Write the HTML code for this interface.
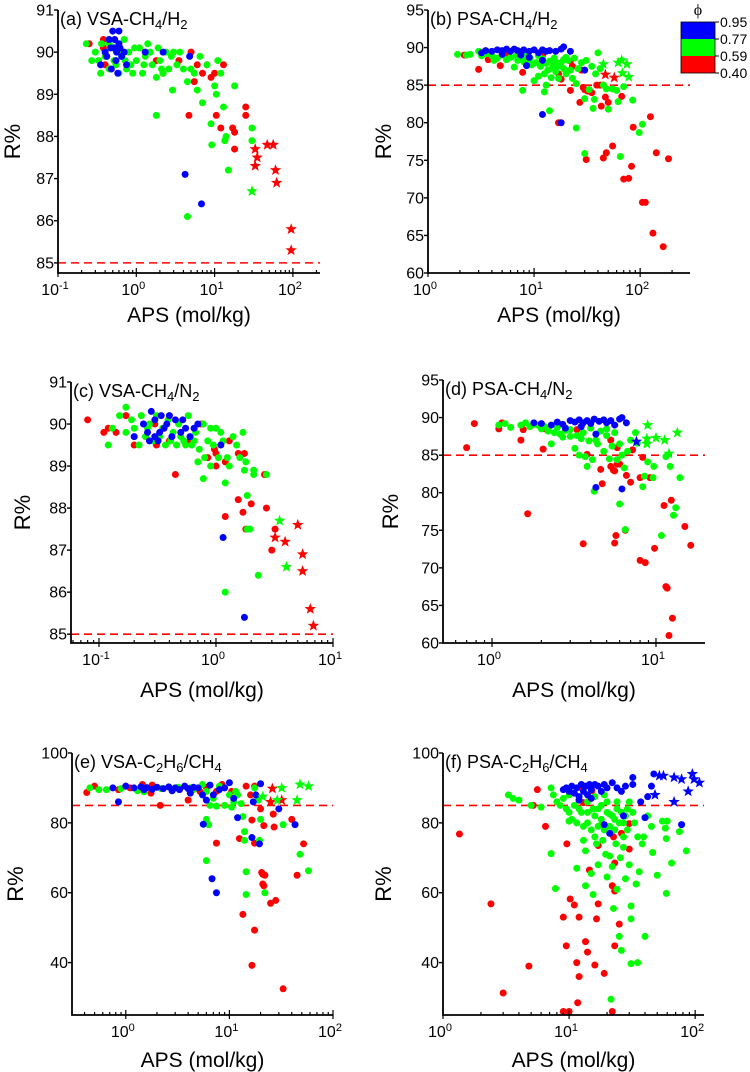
<!DOCTYPE html>
<html><head><meta charset="utf-8"><style>
html,body{margin:0;padding:0;background:#fff;}
svg{display:block;font-family:"Liberation Sans",Arial,sans-serif;}
</style></head><body>
<svg id="fig" width="750" height="1072" viewBox="0 0 750 1072"></svg>
<script>
// ---------- data (APS mol/kg, R%) ----------
const aRed=[[0.25,90.2],[0.38,90.3],[0.4,89.7],[0.57,90.1],[1.1,90.1],[1.8,89.8],[3.5,89.8],[5,90.0],[5.5,89.3],[6,89.7],[7,89.5],[8,89.7],[9,89.4],[10,89.5],[13,89.7],[4.7,88.5],[10.5,88.5],[12,88.2],[17,88.2],[18,88.1],[18,87.7],[25,88.7],[25,88.5],[0.38,90.1],[2.2,89.5]];
const aRedStar=[[33,87.7],[47,87.8],[56,87.8],[35,87.5],[33,87.3],[60,87.2],[62,86.9],[95,85.8],[95,85.3]];
const aGreen=[[0.23,90.2],[0.27,89.8],[0.3,90.0],[0.33,89.8],[0.36,90.2],[0.4,89.9],[0.45,89.6],[0.5,90.1],[0.55,89.7],[0.6,89.5],[0.65,89.9],[0.7,90.3],[0.75,89.6],[0.8,90.0],[0.9,89.5],[1.0,89.8],[1.1,90.1],[1.2,89.5],[1.3,89.9],[1.4,90.2],[1.6,89.7],[1.8,89.4],[1.9,90.1],[2.0,89.8],[2.2,89.5],[2.4,90.0],[2.6,89.6],[2.9,89.1],[3.0,90.0],[3.3,89.7],[3.6,90.0],[4.0,89.6],[4.5,89.3],[5.0,89.6],[5.5,89.5],[6.0,89.1],[6.5,89.9],[7,88.8],[8,89.7],[9,88.3],[9.2,87.8],[10,89.2],[10.5,89.0],[11,89.8],[12,89.5],[13,88.7],[13.5,87.9],[14,88.0],[15,87.2],[18,89.2],[30,88.2],[30,87.9],[1.8,88.5],[4.5,86.1],[0.45,90.2],[0.85,89.7],[1.5,90.0],[2.8,89.9],[0.95,90.1],[0.6,90.0],[0.35,89.5],[1.25,89.7],[2.1,89.6],[0.52,89.8],[0.72,89.8]];
const aGreenStar=[[30,86.7]];
const aBlue=[[0.35,89.7],[0.4,90.0],[0.45,90.3],[0.5,90.5],[0.52,90.1],[0.55,89.8],[0.6,90.2],[0.6,90.5],[0.65,89.9],[0.48,89.6],[0.58,89.5],[0.7,90.0],[0.42,89.9],[1.3,90.0],[2.2,90.0],[4.8,89.9],[4.2,87.1],[6.8,86.4],[0.53,90.3],[0.62,90.1],[0.75,89.7],[0.47,90.1],[0.56,90.0]];
const aBlueStar=[];

const bRed=[[2.2,89.0],[3,87.1],[3.4,89.4],[3.7,88.4],[4.8,87.6],[5.5,89.0],[7.8,86.7],[8.5,88.9],[12,89.0],[15,88.1],[17,86.5],[18,85.8],[22,88.2],[22,84.3],[23,87.5],[27,82.7],[28,87.0],[29,84.7],[30,84.4],[32,84.2],[35,84.0],[39,85.0],[42,85.0],[43,82.2],[45,85.0],[47,83.4],[50,82.7],[55,76.9],[48,76.0],[45,75.3],[31,75.1],[67,83.5],[70,72.5],[78,72.6],[83,74.2],[86,79.4],[105,69.4],[112,69.4],[125,80.8],[132,65.3],[142,76.0],[165,63.5],[185,75.2],[17,80.0]];
const bRedStar=[[47,86.4],[57,86.0]];
const bGreen=[[1.9,89.1],[2.3,89.0],[2.5,89.1],[3,89.5],[3.2,88.9],[3.6,89.2],[4,88.9],[4.5,88.6],[5,89.0],[5.5,88.4],[6,88.7],[6.5,87.4],[7,88.3],[7.5,88.7],[8,88.1],[8.5,88.9],[9,88.2],[9.5,87.7],[10,85.6],[10.5,88.0],[11,86.2],[11.5,87.5],[12,88.5],[12.5,86.5],[13,85.0],[13.5,87.0],[14,88.2],[14.5,86.0],[15,87.4],[15.5,88.6],[16,86.8],[17,85.9],[18,88.0],[19,87.2],[20,86.5],[21,88.3],[22,87.0],[23,85.9],[24,88.6],[25,85.2],[26,87.2],[28,88.0],[30,83.2],[31,88.3],[33,84.4],[35,87.5],[36,81.9],[37,83.1],[38,86.5],[40,89.3],[42,87.2],[45,85.0],[48,84.5],[50,81.8],[55,84.5],[60,84.3],[62,82.8],[65,75.5],[70,84.8],[85,83.0],[98,78.7],[105,79.8],[7.8,84.3],[12.5,84.1],[14,81.6],[25,79.3],[30,75.9],[16,88.0],[20,88.7],[4.2,88.3],[6.8,88.9],[9.2,88.6],[11,88.9],[13,87.9],[17,87.6],[19,88.4]];
const bGreenStar=[[45,87.8],[62,88.0],[67,88.3],[75,87.8],[68,86.6],[78,86.1]];
const bBlue=[[3.2,89.3],[3.5,89.6],[4,89.5],[4.5,89.7],[5,89.6],[5.5,89.8],[6,89.5],[6.5,89.8],[7,89.6],[8,89.7],[9,89.5],[10,89.7],[11,89.3],[12,89.7],[13,89.5],[14,89.6],[16,89.5],[18,89.8],[19,90.1],[22,89.5],[5,89.1],[7.5,89.0],[9,88.7],[12,88.3],[8.5,87.6],[30,87.0],[12,81.1],[18,80.0]];
const bBlueStar=[];

const cRed=[[0.08,90.1],[0.11,89.8],[0.12,89.9],[0.14,89.8],[0.17,90.2],[0.2,89.5],[0.31,89.5],[0.45,88.8],[0.4,89.6],[0.6,89.6],[0.75,90.0],[0.85,89.2],[0.97,89.4],[1.0,89.0],[1.0,89.3],[1.2,89.1],[1.3,89.6],[1.55,89.3],[1.75,89.3],[1.55,88.2],[1.7,87.9],[2.0,88.1],[1.2,87.8],[1.8,87.5],[2.6,88.8],[2.7,88.0],[3.0,87.0],[3.2,87.5],[0.3,90.0]];
const cRedStar=[[3.2,87.3],[3.9,87.2],[5,87.6],[5.5,86.9],[5.5,86.5],[6.4,85.6],[6.8,85.2]];
const cGreen=[[0.12,89.5],[0.13,89.9],[0.15,90.2],[0.17,90.4],[0.17,89.8],[0.19,90.1],[0.2,89.9],[0.22,89.5],[0.23,90.2],[0.25,89.7],[0.27,90.0],[0.29,89.6],[0.31,90.2],[0.35,89.9],[0.37,89.5],[0.39,90.1],[0.43,89.8],[0.46,89.5],[0.48,90.0],[0.53,89.6],[0.58,90.2],[0.62,89.5],[0.67,89.8],[0.72,89.4],[0.78,90.0],[0.8,89.2],[0.85,89.6],[0.9,89.9],[0.95,89.5],[1.0,89.9],[1.05,89.2],[1.1,89.8],[1.15,89.6],[1.2,88.6],[1.25,89.2],[1.3,89.0],[1.4,89.7],[1.5,89.5],[1.6,89.2],[1.7,89.8],[1.8,89.1],[1.75,88.9],[2.1,88.9],[2.1,88.8],[2.7,88.8],[0.7,89.1],[0.78,88.7],[1.85,88.3],[1.85,87.5],[1.95,87.5],[1.2,86.0],[2.3,86.4],[0.9,89.0],[0.26,89.9],[0.33,89.7],[0.41,89.6],[0.5,89.7],[0.55,89.5],[0.65,89.6]];
const cGreenStar=[[3.5,87.7],[4,86.6]];
const cBlue=[[0.2,89.7],[0.24,90.0],[0.26,89.8],[0.28,90.3],[0.3,89.7],[0.3,90.1],[0.32,89.6],[0.34,90.2],[0.36,89.9],[0.38,90.0],[0.4,90.2],[0.42,89.7],[0.45,90.1],[0.5,89.8],[0.52,90.1],[0.55,89.9],[0.6,89.7],[0.65,89.9],[0.7,90.0],[0.27,89.6],[0.33,89.8],[1.1,89.5],[1.15,87.3],[1.75,85.4]];
const cBlueStar=[];

const dRed=[[0.7,86.0],[0.78,89.2],[1.1,88.5],[1.15,89.3],[1.5,87.0],[1.55,88.4],[2.05,85.8],[1.65,77.2],[2.1,88.5],[3.8,85.1],[3.6,73.2],[4.6,83.1],[4.7,81.2],[5.3,83.5],[5.5,83.0],[5.6,82.9],[5.8,83.8],[6.0,83.8],[5.3,87.0],[5.8,86.0],[5.7,74.3],[5.6,73.3],[6.5,75.0],[6.6,82.3],[7.0,81.4],[7.2,85.7],[8.0,82.0],[8.3,84.7],[8.0,71.0],[8.6,70.7],[9.2,82.0],[9.8,72.6],[11.2,78.3],[11.5,67.5],[11.7,67.3],[12.4,79.0],[12.6,63.3],[12,61.0],[15,75.5],[16.3,73.0],[3.3,88.4]];
const dRedStar=[];
const dGreen=[[1.1,89.0],[1.2,89.2],[1.3,88.7],[1.5,89.0],[1.6,89.3],[1.7,88.8],[1.9,89.0],[2.0,88.5],[2.1,88.8],[2.2,88.2],[2.3,86.5],[2.4,88.0],[2.6,87.8],[2.8,88.3],[3.0,87.5],[3.2,85.9],[3.3,87.6],[3.4,85.0],[3.6,88.0],[3.7,84.8],[3.8,83.5],[3.9,86.9],[4.1,84.4],[4.2,80.2],[4.4,86.5],[4.6,88.2],[4.8,85.5],[5.0,87.6],[5.2,84.5],[5.4,86.2],[5.6,88.0],[5.8,84.4],[6.0,78.5],[6.2,85.0],[6.4,83.3],[6.5,75.1],[6.7,85.5],[7.0,87.0],[7.5,88.0],[7.7,86.6],[8.3,80.8],[8.5,82.2],[8.9,84.1],[9.6,82.0],[9.7,83.5],[10.8,74.3],[11.5,84.8],[12.2,83.5],[12.8,77.0],[13.2,78.0],[14,82.0],[6.0,86.5],[3.0,88.4],[4.0,88.6],[5.0,88.5],[2.5,88.7],[2.7,87.4],[3.5,87.2],[4.3,87.0],[1.8,89.1]];
const dGreenStar=[[8.9,89.0],[8.8,87.2],[10,87.3],[11.3,87.0],[13.5,88.0],[8.8,86.5],[12,85.2]];
const dBlue=[[1.8,89.3],[2,89.2],[2.3,89.0],[2.5,89.4],[2.7,89.1],[3,89.6],[3.2,89.4],[3.4,89.7],[3.6,89.3],[3.8,89.6],[4,89.2],[4.2,89.8],[4.5,89.5],[4.8,89.7],[5,89.3],[5.3,89.6],[5.6,89.0],[6,89.8],[6.2,90.0],[6.6,89.3],[4.3,87.8],[4.3,80.7],[6.2,80.5],[2.8,88.6],[3.5,88.8]];
const dBlueStar=[[7.6,86.8]];

const eRed=[[0.42,88.7],[0.5,90.5],[0.85,89.5],[1.0,90.5],[1.1,90],[1.45,91],[1.75,88.5],[1.8,90.8],[2.15,85],[2.8,89.5],[4,86.5],[5.2,89],[6,90.2],[7.5,89],[8.5,91],[10.5,89],[12.5,75.5],[13.5,53.8],[14.5,90.5],[16.5,80.8],[17.5,49.3],[17.5,74.2],[17.5,90.5],[16.5,39.2],[20,84],[20.5,65.8],[21,65.3],[21,62.5],[21.5,62],[21.5,79.2],[22,65],[25,57],[26.5,82.5],[27,78.8],[28,57.8],[33,32.5],[40,81],[45,65],[52,74],[7.5,74.2],[16,88]];
const eRedStar=[[26,89.8],[25,86],[32,86.5]];
const eGreen=[[0.45,90],[0.55,89.5],[0.65,89.5],[0.9,89.8],[1.3,89.2],[1.5,88.9],[2.2,89.8],[3.2,90.2],[4.5,89.5],[5.5,91],[6,89],[6.5,85],[7,87],[7.5,84.8],[8,90.5],[9,85],[10,88],[10.5,84.5],[11,86],[11.5,89],[12,88],[13,85.5],[13.5,81.8],[14,77.5],[14,75],[14.5,66],[14.5,59.5],[17.5,90],[19,86.5],[19.5,75],[20,81],[22,60],[33,79.5],[48,71],[58,66.3],[6,81],[6.3,79.5],[6,69.2],[4.2,90]];
const eGreenStar=[[21,87.5],[29,86.5],[32,90],[45,86.5],[48,91],[58,90.5]];
const eBlue=[[0.75,90],[0.85,86],[1.0,90.5],[1.2,90],[1.4,90.3],[1.6,90.1],[1.8,89.6],[2.0,90.2],[2.3,89.8],[2.6,90.3],[3.0,90.0],[3.3,89.5],[3.7,90.5],[4.2,88.5],[4.5,90.2],[5,90.0],[5.5,88],[6,86.5],[6.5,90.8],[7,88],[8,89.5],[9,90.0],[10,91.5],[11,87],[12,81.5],[16.5,75.8],[19.5,74],[20,91.2],[18,88],[17,86],[30,84],[43,79.5],[5.6,79.6],[6.8,64],[7.5,60],[1.5,89.5],[2.8,89.2],[4,89.8]];
const eBlueStar=[];

const fRed=[[1.35,76.8],[2.4,56.8],[3,31.3],[4.8,39],[5.2,85],[5.6,89.5],[6.5,79],[9,53],[9,26],[9.5,44.8],[9.6,74],[10,26],[10.2,58.2],[11,56.5],[11.5,40],[11.7,28.5],[12,36],[12,53],[12.5,90],[13,85.8],[13.5,46],[14,43],[14.5,66.5],[15.2,89.2],[16,39.3],[16.5,52.5],[17,73.5],[17,56.8],[19,36.9],[22,62],[22,26],[22.5,76],[23,68.5],[23,60.5],[23,44.8],[25,51],[26,77],[30,79.8],[30,72.5]];
const fRedStar=[];
const fGreen=[[3.3,88],[3.6,87],[4,86.5],[5,85],[6,84.5],[7.2,90],[7.2,71.2],[7.5,88],[7.8,61.2],[8,86],[8.5,85],[9,87],[9.5,84],[10,83],[10,88],[10.5,81],[11,85],[11.5,67],[11.5,80],[12,84],[12.5,83],[13,79],[13,75],[13.5,72],[13.5,62],[14,86],[14,80],[15,78],[15,65.5],[15.5,84],[15.5,59.5],[16,82],[16,76],[16.5,74],[17,79],[17,68],[18,85],[18,81],[18.5,75],[19,78],[19.5,71],[20,83],[20,64.5],[21,79],[21,70.5],[21.5,29.5],[22,82],[22,67.5],[22.5,55.5],[23,78],[23.5,74],[24,61],[24,84],[25,80],[25,47.5],[25.5,70],[26,43.5],[27,76],[27,73],[28,82],[28,64],[29,78],[30,68],[30,86],[31,56.2],[31,52.5],[31,39.7],[32,83],[33,80],[34,62.5],[35,76],[35,40],[36,66],[38,74],[39,76],[40,47.5],[42,82],[45,79],[46,71.5],[50,65],[55,80.5],[58,78.5],[59,75.5],[59,59.8],[60,80.5],[65,68.5],[75,77.5],[85,72],[10,80.5],[17,84],[19,88],[24,86],[14,83],[18,79.5],[21,82.5],[23,81],[26,83],[12,86.5],[16,87.5],[20,86],[27,80],[29,84]];
const fGreenStar=[];
const fBlue=[[9,89.5],[9.5,90],[10,89],[10.5,90.5],[11,88.5],[11.5,90],[12,87.5],[12.5,91],[13,89],[13.5,90.5],[14,88],[14.5,91],[15,89.5],[16,91],[17,90.5],[18,89],[19,91],[20,90],[22,91.5],[24,90],[26,89],[28,90.5],[32,91],[32,93],[37,86],[40,81.5],[42,87.5],[45,90.5],[47,94],[78,79.5],[19,79.5],[21,77],[12,86.5],[15,87],[27,82]];
const fBlueStar=[[48,88],[52,93.5],[56,93.5],[68,86],[68,93],[78,92.5],[88,89],[95,94],[98,92.5],[108,91.5]];

// tick labels per panel
const aYTicks=[85,86,87,88,89,90,91];
const bYTicks=[60,65,70,75,80,85,90,95];
const cYTicks=[85,86,87,88,89,90,91];
const dYTicks=[60,65,70,75,80,85,90,95];
const eYTicks=[40,60,80,100];
const fYTicks=[40,60,80,100];
const aXExp=[-1,0,1,2];
const bXExp=[0,1,2];
const cXExp=[-1,0,1];
const dXExp=[0,1];
const eXExp=[0,1,2];
const fXExp=[0,1,2];
const thresholdR=85;

// ---------- drawing ----------
const NS="http://www.w3.org/2000/svg";
const svg=document.getElementById('fig');
const COL={red:"#ff0000",green:"#00ff00",blue:"#0000ff"};
function mk(tag,attrs,parent){const e=document.createElementNS(NS,tag);for(const k in attrs)e.setAttribute(k,attrs[k]);(parent||svg).appendChild(e);return e;}

function panel(p){
  const g=mk('g',{});
  
  
  const lx0=Math.log10(p.xmin),lx1=Math.log10(p.xmax);
  const X=v=>p.L+(Math.log10(v)-lx0)/(lx1-lx0)*(p.R-p.L);
  const Y=v=>p.B-(v-p.ymin)/(p.ymax-p.ymin)*(p.B-p.T);
  const th=mk('line',{x1:p.L,x2:p.R,y1:Y(thresholdR),y2:Y(thresholdR),stroke:"#ff0000","stroke-width":1.6,"stroke-dasharray":"8,5"},g);
  
  
  const groups=[[p.red,'red',0],[p.green,'green',0],[p.blue,'blue',0],[p.redS,'red',1],[p.greenS,'green',1],[p.blueS,'blue',1]];
  groups.forEach(([arr,c,star])=>{
    arr.forEach(d=>{
      const cx=X(d[0]),cy=Y(d[1]);
      let el;
      if(!star){el=mk('circle',{cx:cx,cy:cy,r:3.5,fill:COL[c]},g);}
      else{
        let pts=[];for(let i=0;i<10;i++){const r=i%2?2.5:6;const a=-Math.PI/2+i*Math.PI/5;pts.push((cx+r*Math.cos(a)).toFixed(1)+','+(cy+r*Math.sin(a)).toFixed(1));}
        el=mk('polygon',{points:pts.join(' '),fill:COL[c]},g);
      }
      
      
    });
  });
  const ax=mk('path',{d:`M${p.L},${p.T} V${p.B} H${p.R}`,stroke:"#000","stroke-width":1.8,fill:"none"},g);
  
  
  p.yt.forEach(v=>{
    mk('line',{x1:p.L-4,x2:p.L,y1:Y(v),y2:Y(v),stroke:"#000","stroke-width":1.4},g);
    const t=mk('text',{x:p.L-4,y:Y(v)+5.5,"text-anchor":"end","font-size":16},g);t.textContent=v;
    
    
  });
  for(let e=Math.floor(lx0);e<=Math.ceil(lx1);e++){
    for(let m=1;m<10;m++){const v=m*Math.pow(10,e);const lv=Math.log10(v);if(lv<lx0-1e-9||lv>lx1+1e-9)continue;
      const x=X(v);mk('line',{x1:x,x2:x,y1:p.B+(m==1?4:0),y2:p.B-(m==1?5:3),stroke:"#000","stroke-width":1.2},g);}
  }
  p.xe.forEach(e=>{
    const t=mk('text',{x:X(Math.pow(10,e))-3,y:p.B+22,"text-anchor":"middle","font-size":16},g);
    t.textContent='10';
    const s=mk('tspan',{dy:-6,"font-size":11},t);s.textContent=String(e);
    
    
  });
  const tt=mk('text',{x:p.L+2,y:p.T+15,"font-size":18},g);
  tt.innerHTML=p.title;
  
  
  const xt=mk('text',{x:(p.L+p.R)/2,y:p.xty,"text-anchor":"middle","font-size":21},g);
  xt.textContent='APS (mol/kg)';
  
  
  const yt=mk('text',{x:0,y:0,"text-anchor":"middle","font-size":22,transform:`translate(${p.ytx},${(p.T+p.B)/2}) rotate(-90)`},g);
  yt.textContent='R%';
  
  
}
const sub=s=>`<tspan dy="4" font-size="13">${s}</tspan><tspan dy="-4">`;
panel({id:'a',L:58,R:320,T:10,B:273,xmin:0.1,xmax:Math.pow(10,2.346),ymin:84.76,ymax:91,yt:aYTicks,xe:aXExp,red:aRed,green:aGreen,blue:aBlue,redS:aRedStar,greenS:aGreenStar,blueS:aBlueStar,
  title:'(a) VSA-CH'+sub('4')+'/H'+sub('2')+'</tspan></tspan>',xty:322,ytx:20});
panel({id:'b',L:428,R:690,T:10,B:273,xmin:1,xmax:Math.pow(10,2.47),ymin:60,ymax:95,yt:bYTicks,xe:bXExp,red:bRed,green:bGreen,blue:bBlue,redS:bRedStar,greenS:bGreenStar,blueS:bBlueStar,
  title:'(b) PSA-CH'+sub('4')+'/H'+sub('2')+'</tspan></tspan>',xty:322,ytx:391});
panel({id:'c',L:71,R:333,T:382,B:643,xmin:Math.pow(10,-1.239),xmax:10,ymin:84.79,ymax:91,yt:cYTicks,xe:cXExp,red:cRed,green:cGreen,blue:cBlue,redS:cRedStar,greenS:cGreenStar,blueS:cBlueStar,
  title:'(c) VSA-CH'+sub('4')+'/N'+sub('2')+'</tspan></tspan>',xty:697,ytx:30});
panel({id:'d',L:443,R:705,T:380,B:643,xmin:Math.pow(10,-0.299),xmax:Math.pow(10,1.299),ymin:60,ymax:95,yt:dYTicks,xe:dXExp,red:dRed,green:dGreen,blue:dBlue,redS:dRedStar,greenS:dGreenStar,blueS:dBlueStar,
  title:'(d) PSA-CH'+sub('4')+'/N'+sub('2')+'</tspan></tspan>',xty:697,ytx:398});
panel({id:'e',L:72,R:333,T:753,B:1015,xmin:Math.pow(10,-0.519),xmax:100,ymin:25,ymax:100,yt:eYTicks,xe:eXExp,red:eRed,green:eGreen,blue:eBlue,redS:eRedStar,greenS:eGreenStar,blueS:eBlueStar,
  title:'(e) VSA-C'+sub('2')+'H'+sub('6')+'/CH'+sub('4')+'</tspan></tspan></tspan>',xty:1067,ytx:23});
panel({id:'f',L:443,R:704,T:753,B:1015,xmin:1,xmax:Math.pow(10,2.07),ymin:25,ymax:100,yt:fYTicks,xe:fXExp,red:fRed,green:fGreen,blue:fBlue,redS:fRedStar,greenS:fGreenStar,blueS:fBlueStar,
  title:'(f) PSA-C'+sub('2')+'H'+sub('6')+'/CH'+sub('4')+'</tspan></tspan></tspan>',xty:1067,ytx:391});

// legend colorbar
const lg=mk('g',{});


const legendLabels=['0.95','0.77','0.59','0.40'];
const legendColors=['blue','green','red'];
legendColors.forEach((c,i)=>{const r=mk('rect',{x:681,y:22+i*17,width:34,height:17,fill:COL[c]},lg);
  
  });
mk('rect',{x:681,y:22,width:34,height:51,fill:"none",stroke:"#000","stroke-width":0.8},lg);
legendLabels.forEach((s,i)=>{mk('line',{x1:715,x2:719,y1:22+i*17,y2:22+i*17,stroke:"#000"},lg);
  const t=mk('text',{x:720,y:27+i*17,"font-size":14},lg);t.textContent=s;
  
  });
const phi=mk('text',{x:698,y:15,"text-anchor":"middle","font-size":16,"font-family":"Liberation Serif, serif"},lg);phi.textContent='ϕ';


</script>
</body></html>
